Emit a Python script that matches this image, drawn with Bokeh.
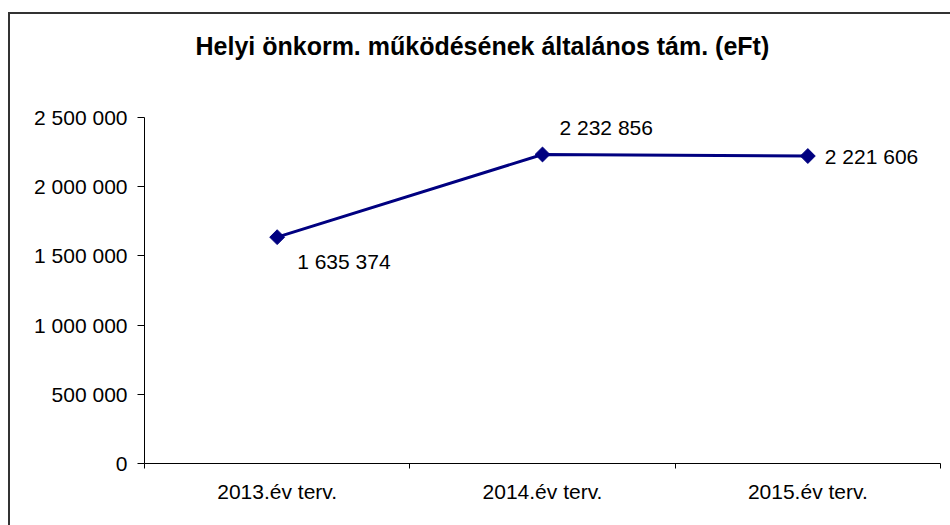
import math
from bokeh.plotting import figure
from bokeh.models import ColumnDataSource, FixedTicker, Range1d, Title, LinearAxis
from bokeh.core.properties import value
from bokeh.embed import file_html
from bokeh.resources import INLINE

TITLE = "Helyi önkorm. működésének általános tám. (eFt)"
CATEGORIES = ["2013.év terv.", "2014.év terv.", "2015.év terv."]
VALUES = [1635374, 2232856, 2221606]
Y_TICKS = [0, 500000, 1000000, 1500000, 2000000, 2500000]

FONT = "Liberation Sans"
NAVY = "#000080"


def fmt(v):
    return f"{v:,}".replace(",", " ")


x_pos = [i + 0.5 for i in range(len(CATEGORIES))]
src = ColumnDataSource(dict(
    x=x_pos,
    y=VALUES,
    label=[fmt(v) for v in VALUES],
    xo=[20, 17, 17],
    yo=[24, -27, 0],
))

p = figure(width=950, height=525, output_backend="svg", toolbar_location=None,
           x_range=Range1d(0, len(CATEGORIES)), y_range=Range1d(0, Y_TICKS[-1]),
           min_border_left=144, min_border_right=10, min_border_top=116,
           min_border_bottom=62)
p.outline_line_color = None
p.xgrid.visible = False
p.ygrid.visible = False
p.background_fill_color = None
p.border_fill_color = None
# chart-area border (left and top edges visible, right/bottom run off the page)
p.styles = {
    "background": "linear-gradient(#333333, #333333) 8px 12px / 2px calc(100% - 12px) no-repeat, "
                  "linear-gradient(#333333, #333333) 8px 12px / calc(100% - 8px) 2px no-repeat, "
                  "white",
}

# x axis (bottom): labels at category centres, tick marks at category boundaries
xa = p.below[0]
xa.ticker = FixedTicker(ticks=x_pos, minor_ticks=list(range(len(CATEGORIES) + 1)))
xa.major_label_overrides = {x: c for x, c in zip(x_pos, CATEGORIES)}
xa.major_tick_out = 0
xa.major_tick_in = 0
xa.minor_tick_out = 5
xa.minor_tick_in = 0
xa.minor_tick_line_color = "black"
xa.axis_line_color = "black"
xa.major_label_standoff = 11
xa.major_label_text_font = FONT
xa.major_label_text_font_size = "21px"
xa.major_label_text_color = "black"

ya = p.left[0]
ya.ticker = FixedTicker(ticks=Y_TICKS, minor_ticks=[])
ya.major_label_overrides = {t: fmt(t) for t in Y_TICKS}
ya.major_tick_out = 7
ya.major_tick_in = 0
ya.major_tick_line_color = "black"
ya.axis_line_color = "black"
ya.major_label_standoff = 10
ya.major_label_text_font = FONT
ya.major_label_text_font_size = "21px"
ya.major_label_text_color = "black"

# invisible spacer between the title and the plot area
spacer = LinearAxis(ticker=FixedTicker(ticks=x_pos, minor_ticks=[]), axis_line_color=None,
                    major_tick_out=25, major_tick_in=0, minor_tick_out=0,
                    major_tick_line_color=None,
                    major_label_overrides={x: "" for x in x_pos},
                    major_label_text_font_size="0px", major_label_standoff=0)
title = Title(text=TITLE, align="left", offset=51, vertical_align="top",
              standoff=62, text_font=FONT, text_font_style="bold",
              text_font_size="25px", text_color="black")
p.above = [spacer, title]

p.line("x", "y", source=src, line_color=NAVY, line_width=3)
p.scatter("x", "y", source=src, marker="square", size=10.5, angle=math.pi / 4,
          fill_color=NAVY, line_color=NAVY)
p.text("x", "y", text="label", source=src, x_offset="xo", y_offset="yo",
       text_font=value(FONT), text_font_size="21px", text_color="black",
       text_align="left", text_baseline="middle")

open("out.html", "w").write(file_html(p, INLINE))
